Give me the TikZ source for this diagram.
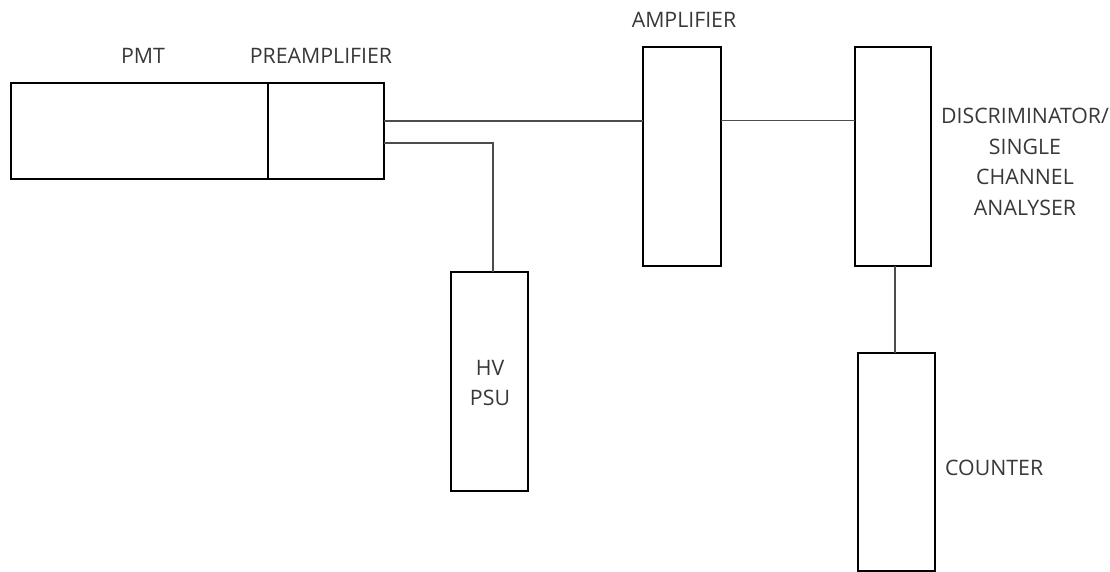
\documentclass[tikz,border=0pt]{standalone}
\usepackage{fontspec}
\setmainfont{Open Sans}
\begin{document}
\begin{tikzpicture}[x=1pt,y=-1pt,
  box/.style={draw=black,line width=2.5pt,fill=white,inner sep=0pt,outer sep=0pt,anchor=north west},
  wire/.style={draw=black!70,line width=1.1pt},
  lbl/.style={text=black!78,inner sep=0pt,font=\fontsize{21.3}{30.5}\selectfont}]
\useasboundingbox (0,0) rectangle (1110,572);
% boxes
\node[box,minimum width=257pt,minimum height=96pt] (pmt) at (11,83) {};
\node[box,minimum width=116pt,minimum height=96pt] (pre) at (268,83) {};
\node[box,minimum width=78pt,minimum height=219pt] (amp) at (643,47) {};
\node[box,minimum width=76pt,minimum height=219pt] (disc) at (855,47) {};
\node[box,minimum width=77pt,minimum height=219pt] (hv) at (451,272) {};
\node[box,minimum width=77pt,minimum height=218pt] (cnt) at (858,353) {};
% labels
\node[lbl] (lpmt) at (143,56) {PMT};
\node[lbl] (lpre) at (321,56) {PREAMPLIFIER};
\node[lbl] (lamp) at (684,20) {AMPLIFIER};
\node[lbl,align=center] (ldisc) at (1025,162) {DISCRIMINATOR/\\SINGLE\\CHANNEL\\ANALYSER};
\node[lbl,anchor=west] (lcnt) at (945,468) {COUNTER};
\node[lbl,align=center] (lhv) at (490,383) {HV\\PSU};
% connectors
\coordinate (s1) at ([yshift=10pt]pre.east);
\coordinate (s2) at ([yshift=-12pt]pre.east);
\coordinate (a1) at ([yshift=36pt]amp.east);
\draw[wire] (s1) -- (s1 -| amp.west);
\draw[wire] (s2) -| ([xshift=3.5pt]hv.north);
\draw[wire] (a1) -- (a1 -| disc.west);
\draw[wire] ([xshift=2pt]disc.south) -- ([xshift=2pt]disc.south |- cnt.north);
\end{tikzpicture}
\end{document}
